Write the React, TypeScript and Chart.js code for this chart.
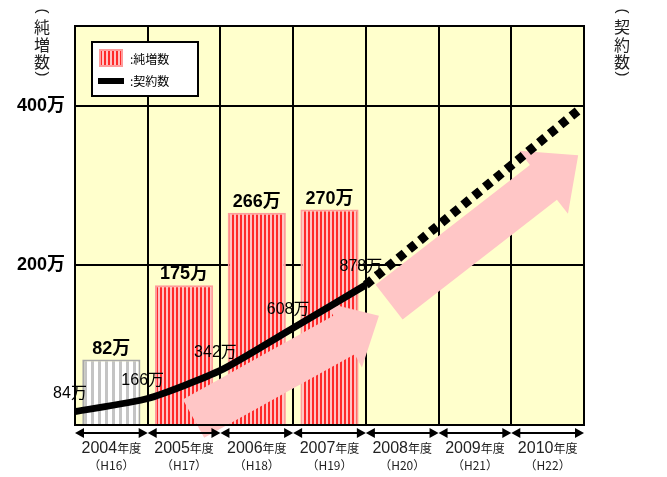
import React, { useEffect, useRef } from 'react';
import { Chart, registerables } from 'chart.js';
Chart.register(...registerables);

// ---- data ----
const fiscalYears = ['2004', '2005', '2006', '2007', '2008', '2009', '2010'];
const heiseiYears = ['H16', 'H17', 'H18', 'H19', 'H20', 'H21', 'H22'];
const netIncrease = [82, 175, 266, 270, null, null, null]; // 万 (left axis)
const contractPos = [0, 1, 2, 3, 4]; // fiscal-year boundaries
const contracts = [84, 166, 342, 608, 878]; // 万 (right axis)
const forecastPos = [4, 6.93];
const forecast = [878, 1975];
const leftTicks = [200, 400];
const rightTicks = [1000, 2000];
const arrowFrom = [[1.63, 8], [4.32, 154]];
const arrowTo = [[4.18, 137], [6.92, 338]];

const SANS = "'Liberation Sans', 'Noto Sans CJK JP', sans-serif";
const JP = "'Noto Sans CJK JP', 'Liberation Sans', sans-serif";

function makePattern(c1: string, w1: number, c2: string, w2: number) {
  const cv = document.createElement('canvas');
  cv.width = w1 + w2;
  cv.height = 4;
  const cx = cv.getContext('2d')!;
  cx.fillStyle = c1;
  cx.fillRect(0, 0, w1, 4);
  cx.fillStyle = c2;
  cx.fillRect(w1, 0, w2, 4);
  return cx.createPattern(cv, 'repeat')!;
}

function blockArrow(ctx: CanvasRenderingContext2D, x0: number, y0: number, x1: number, y1: number, sw: number, hw: number, hl: number) {
  const ang = Math.atan2(y1 - y0, x1 - x0);
  const len = Math.hypot(x1 - x0, y1 - y0);
  ctx.save();
  ctx.translate(x0, y0);
  ctx.rotate(ang);
  ctx.beginPath();
  ctx.moveTo(0, -sw / 2);
  ctx.lineTo(len - hl, -sw / 2);
  ctx.lineTo(len - hl, -hw / 2);
  ctx.lineTo(len, 0);
  ctx.lineTo(len - hl, hw / 2);
  ctx.lineTo(len - hl, sw / 2);
  ctx.lineTo(0, sw / 2);
  ctx.closePath();
  ctx.fill();
  ctx.restore();
}

function verticalTitle(ctx: CanvasRenderingContext2D, text: string, cx: number) {
  ctx.save();
  ctx.fillStyle = '#222';
  ctx.textAlign = 'center';
  ctx.textBaseline = 'middle';
  ctx.save();
  ctx.translate(cx, 11);
  ctx.rotate(Math.PI / 2);
  ctx.font = '15px ' + SANS;
  ctx.fillText('(', 0, 0);
  ctx.restore();
  ctx.font = '16px ' + JP;
  const chars = Array.from(text);
  chars.forEach((ch, i) => ctx.fillText(ch, cx, 27 + i * 17.5));
  ctx.save();
  ctx.translate(cx, 27 + (chars.length - 1) * 17.5 + 12);
  ctx.rotate(Math.PI / 2);
  ctx.font = '15px ' + SANS;
  ctx.fillText(')', 0, 0);
  ctx.restore();
  ctx.restore();
}

export default function App() {
  const ref = useRef<HTMLCanvasElement>(null);

  useEffect(() => {
    const canvas = ref.current!;
    const redPat = makePattern('#ff2a2a', 2, '#ffc4c4', 2);
    const grayPat = makePattern('#c4c4c4', 3, '#ffffff', 4);

    const bgPlugin = {
      id: 'bg',
      beforeDraw(chart: any) {
        const { ctx, chartArea: a } = chart;
        ctx.save();
        ctx.fillStyle = '#ffffcc';
        ctx.fillRect(a.left, a.top, a.right - a.left, a.bottom - a.top);
        ctx.restore();
      },
    };

    const arrowPlugin = {
      id: 'trendArrows',
      afterDatasetDraw(chart: any, args: any) {
        if (args.index !== 0) return;
        const { ctx } = chart;
        const xs = chart.scales.x2;
        const ys = chart.scales.y;
        ctx.save();
        ctx.fillStyle = '#ffc6c6';
        arrowFrom.forEach((f, i) => {
          const t = arrowTo[i];
          blockArrow(ctx, xs.getPixelForValue(f[0]), ys.getPixelForValue(f[1]), xs.getPixelForValue(t[0]), ys.getPixelForValue(t[1]), 44, i === 0 ? 74 : 80, i === 0 ? 40 : 44);
        });
        ctx.restore();
      },
    };

    const decoPlugin = {
      id: 'deco',
      afterDraw(chart: any) {
        const { ctx, chartArea: a } = chart;
        const xs = chart.scales.x2;
        ctx.save();
        ctx.strokeStyle = '#000';
        ctx.lineWidth = 2;
        ctx.strokeRect(a.left, a.top, a.right - a.left, a.bottom - a.top);

        // bar labels
        ctx.fillStyle = '#000';
        ctx.textAlign = 'center';
        ctx.textBaseline = 'alphabetic';
        ctx.font = 'bold 18px ' + SANS;
        const barMeta = chart.getDatasetMeta(0);
        barMeta.data.forEach((el: any, i: number) => {
          const v = netIncrease[i];
          if (v == null) return;
          ctx.fillText(v + '万', el.x, el.y - 6);
        });

        // line labels
        ctx.font = '16px ' + SANS;
        ctx.textBaseline = 'middle';
        const lineMeta = chart.getDatasetMeta(1);
        lineMeta.data.forEach((el: any, i: number) => {
          ctx.fillText(contracts[i] + '万', el.x - 5, el.y - 18);
        });

        // legend
        const lx = a.left + 17, ly = a.top + 16;
        ctx.fillStyle = '#fff';
        ctx.fillRect(lx, ly, 106, 54);
        ctx.strokeStyle = '#000';
        ctx.lineWidth = 2;
        ctx.strokeRect(lx, ly, 106, 54);
        ctx.fillStyle = redPat;
        ctx.fillRect(lx + 8, ly + 8, 22, 16);
        ctx.strokeStyle = '#ff9c9c';
        ctx.lineWidth = 2;
        ctx.strokeRect(lx + 8, ly + 8, 22, 16);
        ctx.fillStyle = '#000';
        ctx.fillRect(lx + 6, ly + 36, 26, 6);
        ctx.font = '12px ' + JP;
        ctx.textAlign = 'left';
        ctx.fillText(':純増数', lx + 38, ly + 17);
        ctx.fillText(':契約数', lx + 38, ly + 39);

        // axis titles
        verticalTitle(ctx, '純増数', 42);
        verticalTitle(ctx, '契約数', 622);

        // bottom fiscal-year arrows and labels
        const y = a.bottom + 8;
        ctx.strokeStyle = '#000';
        ctx.lineWidth = 2;
        for (let i = 0; i < fiscalYears.length; i++) {
          const xa = xs.getPixelForValue(i);
          const xb = xs.getPixelForValue(i + 1);
          ctx.fillStyle = '#000';
          ctx.beginPath();
          ctx.moveTo(xa + 6, y);
          ctx.lineTo(xb - 6, y);
          ctx.stroke();
          ctx.beginPath();
          ctx.moveTo(xa, y);
          ctx.lineTo(xa + 9, y - 5);
          ctx.lineTo(xa + 9, y + 5);
          ctx.closePath();
          ctx.fill();
          ctx.beginPath();
          ctx.moveTo(xb, y);
          ctx.lineTo(xb - 9, y - 5);
          ctx.lineTo(xb - 9, y + 5);
          ctx.closePath();
          ctx.fill();

          const cx = xs.getPixelForValue(i + 0.5);
          ctx.textBaseline = 'alphabetic';
          ctx.font = '16px ' + SANS;
          const w1 = ctx.measureText(fiscalYears[i]).width;
          ctx.font = '12px ' + JP;
          const w2 = ctx.measureText('年度').width;
          const sx = cx - (w1 + w2) / 2;
          ctx.textAlign = 'left';
          ctx.fillStyle = '#222';
          ctx.font = '16px ' + SANS;
          ctx.fillText(fiscalYears[i], sx, y + 20);
          ctx.font = '12px ' + JP;
          ctx.fillText('年度', sx + w1, y + 20);
          ctx.textAlign = 'center';
          ctx.font = '12px ' + JP;
          ctx.fillText('（' + heiseiYears[i] + '）', cx, y + 37);
        }
        ctx.restore();
      },
    };

    const chart = new Chart(canvas, {
      type: 'bar',
      data: {
        labels: fiscalYears,
        datasets: [
          {
            type: 'bar',
            label: '純増数',
            data: netIncrease as any,
            backgroundColor: netIncrease.map((_, i) => (i === 0 ? grayPat : redPat)) as any,
            borderColor: netIncrease.map((_, i) => (i === 0 ? '#a8a8a8' : '#ff9c9c')),
            borderWidth: 2,
            barPercentage: 0.8,
            categoryPercentage: 1,
            grouped: false,
            xAxisID: 'x',
            yAxisID: 'y',
            order: 3,
          },
          {
            type: 'line',
            label: '契約数',
            data: contractPos.map((p, i) => ({ x: p, y: contracts[i] })) as any,
            borderColor: '#000',
            borderWidth: 7,
            pointRadius: 0,
            tension: 0.2,
            xAxisID: 'x2',
            yAxisID: 'y2',
            order: 1,
          },
          {
            type: 'line',
            label: '契約数（予測）',
            data: forecastPos.map((p, i) => ({ x: p, y: forecast[i] })) as any,
            borderColor: '#000',
            borderWidth: 9,
            borderDash: [8, 6],
            pointRadius: 0,
            xAxisID: 'x2',
            yAxisID: 'y2',
            order: 2,
          },
        ],
      },
      options: {
        responsive: false,
        animation: false,
        layout: { padding: { top: 26, bottom: 52, left: 0, right: 0 } },
        plugins: { legend: { display: false }, tooltip: { enabled: false } },
        scales: {
          x: {
            type: 'category',
            offset: true,
            grid: { color: '#000', lineWidth: 2, offset: true, drawTicks: false },
            ticks: { display: false },
            border: { display: false },
            afterFit: (s: any) => { s.height = 0; },
          },
          x2: { type: 'linear', min: 0, max: 7, offset: false, display: false, grid: { offset: false } },
          y: {
            type: 'linear',
            position: 'left',
            min: 0,
            max: 500,
            ticks: {
              stepSize: 200,
              padding: 10,
              color: '#000',
              font: { family: SANS, size: 18, weight: 'bold' },
              callback: (v: any) => (leftTicks.includes(v) ? v + '万' : ''),
            },
            grid: {
              drawTicks: false,
              lineWidth: 2,
              color: (c: any) => (leftTicks.includes(c.tick.value) ? '#000' : 'rgba(0,0,0,0)'),
            },
            border: { display: false },
            afterFit: (s: any) => { s.width = 75; },
          },
          y2: {
            type: 'linear',
            position: 'right',
            min: 0,
            max: 2500,
            ticks: {
              stepSize: 1000,
              padding: 16,
              color: '#000',
              font: { family: SANS, size: 16 },
              callback: (v: any) => (rightTicks.includes(v) ? v.toLocaleString('en-US') + '万' : ''),
            },
            grid: { display: false, drawTicks: false },
            border: { display: false },
            afterFit: (s: any) => { s.width = 83; },
          },
        },
      } as any,
      plugins: [bgPlugin, arrowPlugin, decoPlugin],
    });
    return () => chart.destroy();
  }, []);

  return (
    <div style={{ position: 'absolute', left: 0, top: 0, width: 667, height: 477, background: '#fff' }}>
      <canvas ref={ref} width={667} height={477} style={{ display: 'block', width: 667, height: 477 }} />
    </div>
  );
}
